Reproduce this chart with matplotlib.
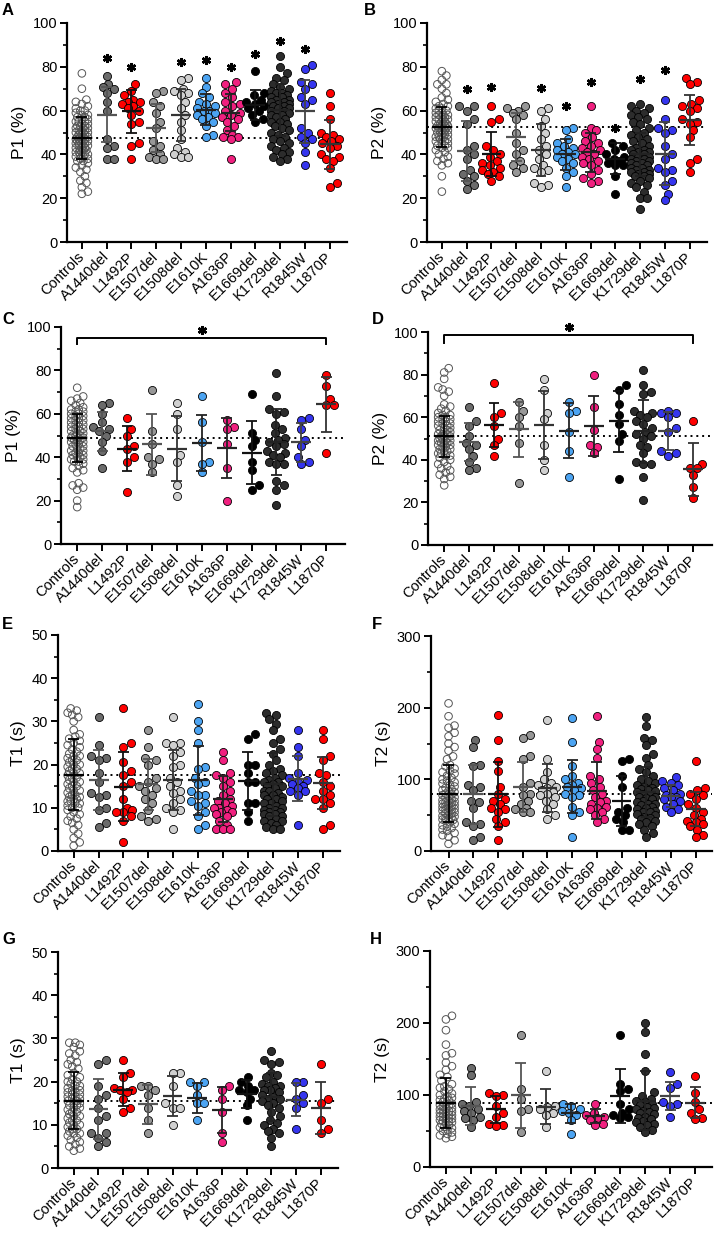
import matplotlib
matplotlib.use("Agg")
import matplotlib.pyplot as plt
import numpy as np

plt.rcParams['font.family'] = ['Liberation Sans', 'DejaVu Sans']

W, H = 721, 1233

groups = ['Controls', 'A1440del', 'L1492P', 'E1507del', 'E1508del', 'E1610K',
          'A1636P', 'E1669del', 'K1729del', 'R1845W', 'L1870P']
colors = ['none', '#6b6b6b', '#ff0000', '#979797', '#d0d0d0', '#4ca4f2',
          '#f0207f', '#000000', '#2c2c2c', '#3535ee', '#ff0000']
bar_colors = ['#000000', '#555555', '#111111', '#555555', '#333333', '#222222',
              '#222222', '#111111', '#222222', '#444444', '#333333']

# ---- panel A : P1 (%) ----
A_vals = [
    [77, 70, 65, 64, 63, 62, 61, 60, 60, 59, 58, 58, 57, 57, 56, 56, 55, 55, 55, 54, 54, 53, 53, 53,
     52, 52, 52, 51, 51, 51, 50, 50, 50, 50, 49, 49, 49, 48, 48, 48, 48, 47, 47, 47, 47, 46, 46, 46,
     46, 45, 45, 45, 45, 44, 44, 44, 43, 43, 43, 42, 42, 42, 41, 41, 41, 40, 40, 40, 39, 39, 38, 38,
     37, 37, 36, 35, 34, 33, 32, 30, 28, 27, 25, 23, 22],
    [76, 72, 71, 70, 68, 64, 60, 47, 44, 43, 38, 38],
    [72, 69, 67, 65, 64, 64, 63, 62, 61, 60, 58, 55, 54, 45, 44, 38],
    [69, 68, 64, 62, 59, 55, 52, 46, 44, 42, 40, 39, 38, 38],
    [75, 74, 70, 69, 68, 67, 64, 61, 58, 55, 51, 47, 43, 41, 40, 39, 39],
    [75, 71, 68, 66, 64, 63, 62, 61, 60, 60, 59, 58, 57, 56, 55, 53, 49, 48],
    [73, 72, 70, 68, 66, 64, 63, 62, 60, 59, 58, 57, 56, 55, 53, 51, 49, 48, 48, 47, 38],
    [78, 68, 67, 65, 64, 63, 62, 61, 60, 58, 56, 55],
    [85, 80, 77, 75, 74, 72, 71, 70, 69, 68, 68, 67, 66, 66, 65, 65, 64, 64, 63, 63, 62, 62, 61, 61,
     60, 60, 59, 59, 58, 58, 57, 56, 55, 55, 54, 53, 52, 51, 50, 49, 48, 47, 46, 45, 44, 43, 42, 41,
     40, 39, 38, 37],
    [81, 79, 73, 72, 70, 66, 65, 63, 52, 50, 48, 47, 45, 41, 35],
    [68, 62, 56, 50, 49, 48, 47, 46, 45, 44, 43, 40, 39, 38, 37, 34, 27, 25],
]
A_mean = [47.5, 58.2, 59.7, 52.1, 58, 60.5, 59, 62.7, 60.2, 59.6, 44.6]
A_sd = [9.8, 12.5, 9.8, 10.8, 12, 7, 8.5, 6.8, 12, 14.5, 11.3]
A_star = [None, 84, 80, None, 82, 83, 80, 86, 92, 88, None]

# ---- panel B : P2 (%) ----
B_vals = [
    [78, 76, 74, 72, 72, 70, 68, 66, 65, 64, 63, 62, 62, 61, 61, 60, 60, 59, 59, 58, 58, 58, 57, 57,
     57, 56, 56, 56, 55, 55, 55, 54, 54, 54, 53, 53, 53, 53, 52, 52, 52, 52, 51, 51, 51, 50, 50, 50,
     49, 49, 49, 48, 48, 48, 47, 47, 46, 46, 45, 45, 44, 44, 43, 43, 42, 41, 40, 39, 38, 37, 36, 35,
     30, 23],
    [62, 62, 60, 56, 54, 44, 42, 40, 38, 33, 31, 30, 28, 26, 24],
    [62, 56, 55, 44, 42, 40, 39, 37, 36, 35, 34, 33, 32, 31, 30, 28],
    [62, 61, 60, 59, 58, 56, 50, 45, 42, 40, 37, 35, 34, 32],
    [61, 60, 56, 53, 50, 47, 44, 42, 40, 38, 35, 34, 33, 32, 27, 26, 25],
    [52, 51, 47, 45, 44, 43, 42, 41, 40, 40, 39, 38, 37, 36, 34, 32, 30, 25],
    [62, 52, 51, 50, 48, 46, 45, 44, 43, 42, 41, 40, 39, 38, 37, 36, 35, 33, 31, 29, 28, 27],
    [45, 44, 42, 40, 39, 38, 37, 36, 35, 35, 30, 22],
    [63, 62, 61, 60, 59, 58, 57, 56, 55, 54, 52, 51, 50, 49, 48, 47, 46, 45, 44, 43, 42, 42, 41, 41,
     40, 40, 39, 39, 38, 38, 37, 37, 36, 36, 35, 35, 34, 34, 33, 33, 32, 32, 31, 31, 30, 30, 29, 28,
     27, 26, 25, 23, 20, 20, 15],
    [65, 56, 52, 51, 50, 44, 40, 38, 34, 33, 32, 28, 26, 22, 19],
    [75, 73, 72, 65, 63, 62, 61, 60, 56, 55, 54, 51, 48, 38, 36, 32],
]
B_mean = [52.6, 41.6, 40.3, 48, 42, 40, 41, 38, 40, 40.3, 55.8]
B_sd = [9, 13.7, 10, 11, 12, 7, 9, 7, 10, 14.5, 11.3]
B_star = [None, 70, 71, None, 70.5, 62, 73, 52, 74.5, 78.5, None]

# ---- panel C : P1 (%) ----
C_vals = [
    [72, 68, 67, 66, 65, 64, 63, 62, 62, 61, 61, 60, 60, 59, 59, 58, 58, 57, 57, 56, 56, 55, 55, 54,
     54, 53, 53, 52, 52, 51, 51, 50, 50, 50, 49, 49, 49, 48, 48, 48, 47, 47, 46, 46, 45, 45, 44, 44,
     43, 43, 42, 42, 41, 41, 40, 40, 39, 39, 38, 38, 37, 36, 35, 34, 33, 28, 27, 26, 25, 20, 17],
    [65, 64, 60, 56, 54, 53, 52, 50, 47, 43, 35],
    [58, 53, 50, 45, 44, 40, 38, 24],
    [71, 52, 46, 40, 39, 37, 33],
    [65, 60, 53, 41, 38, 27, 22],
    [68, 56, 47, 38, 37, 33],
    [57, 54, 53, 46, 35, 20],
    [69, 51, 48, 45, 38, 34, 27, 25],
    [79, 68, 62, 61, 60, 55, 53, 51, 49, 48, 47, 46, 45, 43, 42, 41, 40, 38, 37, 37, 29, 27, 25, 18],
    [58, 57, 53, 48, 45, 40, 38, 37],
    [78, 73, 67, 64, 64, 42],
]
C_mean = [49, 52, 44, 46, 44, 46.5, 44.2, 42, 47, 46.8, 64.3]
C_sd = [11, 9, 10.5, 14, 15, 13, 14, 14.5, 15, 9, 12.5]

# ---- panel D : P2 (%) ----
D_vals = [
    [83, 81, 78, 74, 73, 72, 70, 66, 65, 64, 63, 62, 61, 61, 60, 60, 59, 59, 58, 58, 57, 57, 56, 56,
     55, 55, 54, 54, 53, 53, 52, 52, 52, 51, 51, 51, 50, 50, 50, 49, 49, 49, 48, 48, 48, 47, 47, 46,
     46, 45, 45, 44, 44, 43, 43, 42, 42, 41, 40, 39, 38, 37, 36, 35, 34, 33, 32, 31, 28],
    [65, 58, 56, 51, 48, 47, 45, 42, 39, 36, 35],
    [76, 62, 60, 56, 50, 47, 42],
    [67, 63, 60, 56, 48, 29],
    [78, 73, 62, 59, 47, 40, 35],
    [67, 63, 62, 53, 44, 32],
    [80, 65, 54, 47, 46, 43],
    [75, 73, 66, 61, 57, 52, 49, 31],
    [82, 75, 72, 71, 63, 62, 61, 60, 58, 57, 55, 53, 52, 51, 50, 47, 46, 43, 39, 38, 38, 32, 21],
    [63, 62, 62, 60, 55, 53, 44, 43, 42],
    [58, 38, 36, 36, 33, 27, 22],
]
D_mean = [51, 48.4, 56.3, 54.3, 56.5, 53.7, 56, 58, 53.3, 53.4, 35.6]
D_sd = [9.5, 9, 10.5, 13, 16, 13, 14, 14.5, 15, 9, 12.5]

# ---- panel E : T1 (s) ----
E_vals = [
    [33, 32.5, 32, 31.5, 31, 30, 28, 27, 26.5, 26, 25.5, 25, 24.5, 24, 23.5, 23, 22.5, 22, 22, 21.5,
     21, 21, 20.5, 20, 20, 19.5, 19, 19, 18.5, 18, 18, 17.5, 17, 17, 16.5, 16, 16, 15.5, 15, 15, 14.5,
     14, 14, 13.5, 13, 13, 12.5, 12.5, 12, 12, 11.5, 11.5, 11, 11, 10.5, 10, 10, 9.5, 9, 8.5, 8, 7.5,
     7, 6.5, 6, 5, 4, 3, 2, 1.2],
    [31, 24.5, 22, 21.5, 21, 18, 16, 13.5, 13, 12.5, 10, 9.5, 6.5, 5.5],
    [33, 25, 24, 20.5, 18.5, 17.5, 16, 15, 12, 10, 9.5, 9, 9, 8, 7, 2],
    [28, 24, 21.5, 21, 20, 17, 16, 15, 14.5, 14, 13, 12, 11, 9.5, 8, 7.5, 7],
    [31, 25, 25, 24.5, 23, 22, 20, 19.5, 17, 16, 15, 14, 13.5, 12, 11, 10, 9.5, 9, 5],
    [34, 30, 28, 25, 19.5, 19, 17, 16, 15.5, 14, 13, 13, 11.5, 11, 10.5, 9, 8, 6, 5],
    [23, 21, 18, 17.5, 17, 16, 15, 14, 13, 12, 11.5, 11, 10.5, 10, 10, 9.5, 9, 9, 8.5, 8, 7, 6, 5, 5, 5],
    [27, 26, 20, 20, 18, 16, 16, 11, 11, 9, 7],
    [32, 31.5, 30.5, 29.5, 28, 26, 25, 23.5, 22.5, 21, 20, 19, 18.5, 18, 17.5, 17, 16.5, 16, 16, 15.5,
     15, 15, 14.5, 14, 14, 13.5, 13, 13, 12.5, 12, 12, 11.5, 11, 11, 10.5, 10, 10, 9.5, 9.5, 9, 9, 8.5,
     8.5, 8, 8, 7.5, 7, 7, 6.5, 6, 5.5, 5, 5],
    [28, 24, 22, 18, 17, 16.5, 16, 15.5, 15, 14.5, 14, 14, 13, 6],
    [28, 26, 22, 21, 18, 17.5, 16, 15, 14, 13, 12, 12, 11, 10, 6, 5],
]
E_mean = [17.7, 16.4, 14.9, 15.4, 16.4, 16.4, 12, 16.3, 15.4, 16.7, 15.8]
E_sd = [8.2, 7, 8, 6, 7, 8, 5.3, 6.7, 7.4, 5.2, 6]

# ---- panel F : T2 (s) ----
F_vals = [
    [206, 188, 175, 172, 165, 160, 150, 145, 140, 132, 128, 120, 118, 115, 112, 110, 108, 105, 102,
     100, 98, 96, 94, 92, 90, 88, 86, 85, 84, 82, 80, 79, 78, 76, 75, 74, 72, 71, 70, 69, 68, 67, 66,
     65, 64, 63, 62, 61, 60, 59, 58, 57, 56, 55, 54, 53, 52, 50, 49, 48, 47, 46, 45, 44, 43, 42, 40,
     38, 36, 34, 32, 30, 28, 25, 22, 20, 15, 10],
    [155, 145, 120, 118, 92, 90, 85, 70, 68, 60, 40, 38, 35, 20, 15],
    [190, 155, 125, 112, 90, 80, 72, 70, 65, 60, 58, 55, 45, 40, 35, 15],
    [162, 158, 132, 128, 95, 90, 80, 78, 70, 65, 60, 58, 55, 55],
    [183, 128, 110, 100, 95, 92, 90, 88, 85, 82, 80, 78, 75, 70, 65, 58, 50, 45],
    [185, 152, 118, 105, 100, 95, 92, 90, 88, 85, 80, 78, 75, 62, 55, 50, 20],
    [188, 152, 142, 130, 105, 100, 95, 90, 85, 80, 75, 70, 68, 65, 62, 60, 58, 55, 50, 45, 40],
    [128, 126, 105, 90, 60, 55, 50, 45, 40, 30, 30],
    [187, 175, 158, 155, 148, 135, 130, 120, 115, 110, 105, 100, 98, 95, 92, 90, 88, 86, 85, 84, 82,
     80, 78, 76, 75, 74, 72, 70, 68, 66, 65, 64, 62, 60, 58, 56, 55, 54, 52, 50, 48, 46, 44, 42, 40,
     38, 35, 30, 25, 20],
    [103, 98, 95, 92, 88, 85, 80, 78, 76, 75, 72, 70, 66, 62, 58, 55],
    [125, 88, 85, 80, 78, 72, 65, 60, 55, 50, 45, 42, 40, 38, 35, 30, 22, 20],
]
F_mean = [80, 79, 79, 89, 88, 90, 84, 70, 82, 77, 59]
F_sd = [40, 41, 45, 35, 33, 37, 40, 35, 35, 15, 24]

# ---- panel G : T1 (s) ----
G_vals = [
    [29, 29, 28.5, 28, 27, 26.5, 26, 25, 24.5, 24, 23.5, 23, 22, 21.5, 21, 20.5, 20, 20, 19.5, 19, 19,
     18.5, 18, 18, 17.5, 17.5, 17, 17, 16.5, 16.5, 16, 16, 15.5, 15.5, 15, 15, 14.5, 14.5, 14, 14, 13.5,
     13, 13, 12.5, 12, 12, 11.5, 11, 11, 10.5, 10, 10, 9.5, 9, 9, 8.5, 8, 8, 7.5, 7, 6.5, 6, 5.5, 5,
     4.5, 4],
    [25, 24, 19, 17, 16, 14, 12, 11, 8, 8, 7, 6, 5],
    [25, 22, 21, 18.5, 18, 18, 17.5, 16, 14, 13],
    [19, 19, 18, 17, 14, 11, 8],
    [22, 22, 19, 15, 14, 14, 10],
    [20, 20, 19, 17, 15, 15, 11],
    [19, 18, 16, 13, 8, 6],
    [21, 20, 19, 18, 18, 17.5, 16, 14.5, 11],
    [27, 25, 24.5, 24, 22, 21.5, 21, 20, 19.5, 19, 19, 18.5, 18, 18, 17.5, 17, 16.5, 16, 16, 15.5, 15,
     14.5, 14, 13, 12, 11, 10.5, 10, 9, 8.5, 8, 7, 5],
    [20, 20, 17, 16, 15, 14, 9],
    [24, 16, 15, 11, 9, 8],
]
G_mean = [15.6, 13.7, 18.1, 14.7, 16.6, 16.2, 13.4, 17.2, 16.4, 15.8, 13.8]
G_sd = [6.6, 6.9, 3.8, 4.4, 4.6, 3.5, 5.3, 3.2, 5.5, 3.8, 6]

# ---- panel H : T2 (s) ----
H_vals = [
    [210, 205, 190, 170, 158, 155, 145, 140, 135, 128, 125, 120, 115, 112, 110, 108, 105, 102, 100, 98,
     96, 95, 93, 92, 90, 88, 87, 86, 85, 84, 82, 81, 80, 79, 78, 77, 76, 75, 74, 73, 72, 71, 70, 69,
     68, 67, 66, 65, 64, 63, 62, 61, 60, 58, 56, 55, 54, 52, 50, 48, 46, 44, 42, 40],
    [138, 128, 90, 88, 85, 80, 78, 75, 70, 68, 65, 55],
    [103, 100, 98, 85, 75, 70, 60, 58, 57],
    [183, 108, 95, 80, 78, 48],
    [133, 85, 83, 80, 75, 72, 55],
    [88, 85, 80, 78, 75, 72, 65, 46],
    [88, 75, 72, 70, 68, 65, 60, 58],
    [183, 115, 108, 105, 87, 80, 75, 72, 70, 68],
    [200, 188, 157, 133, 104, 98, 95, 92, 90, 88, 86, 84, 82, 80, 78, 76, 75, 73, 70, 68, 66, 64, 62,
     60, 58, 55, 52, 48],
    [132, 115, 110, 90, 88, 85, 70],
    [127, 103, 90, 80, 75, 68, 66],
]
H_mean = [89, 84.8, 80, 99.5, 84, 74.5, 71, 98.5, 92, 98.5, 89.5]
H_sd = [35, 26, 19, 45, 24, 13, 10, 38, 41, 20, 22]


def swarm(vals, ppu, d, wmax):
    # spread points sideways (in pixels) so circles do not sit on top of each other
    y = np.asarray(vals, float) * ppu
    order = np.argsort(y)
    step = d * 0.25
    cands = [0.0]
    k = step
    while k <= wmax + 1e-6:
        cands += [k, -k]
        k += step
    xs = np.zeros(len(y))
    done = []
    for i in order:
        best, bestd = 0.0, -1.0
        for c in cands:
            dm = min([np.hypot(c - xs[j], y[i] - y[j]) for j in done], default=1e9)
            if dm >= d:
                best = c
                break
            if dm > bestd:
                best, bestd = c, dm
        xs[i] = best
        done.append(i)
    return xs


panels = [
    # letter, rect px (l, r, t, b), xlim, data, ylim, major, minor, ylabel, letter pos
    ('A', (67, 347, 23, 242), -0.6, 10.7, A_vals, A_mean, A_sd, (0, 100), 20, 10, 'P1 (%)', (2, 3)),
    ('B', (427, 707, 23, 242), -0.6, 10.7, B_vals, B_mean, B_sd, (0, 100), 20, 10, 'P2 (%)', (364, 3)),
    ('C', (61, 345, 327, 544), -0.65, 10.75, C_vals, C_mean, C_sd, (0, 100), 20, 10, 'P1 (%)', (2, 312)),
    ('D', (428, 712, 332, 545), -0.65, 10.75, D_vals, D_mean, D_sd, (0, 100), 20, 10, 'P2 (%)', (372, 312)),
    ('E', (58, 340, 635, 851), -0.63, 10.7, E_vals, E_mean, E_sd, (0, 50), 10, 5, 'T1 (s)', (2, 617)),
    ('F', (431, 712, 636, 851), -0.71, 10.66, F_vals, F_mean, F_sd, (0, 300), 100, 50, 'T2 (s)', (372, 617)),
    ('G', (58, 338, 952, 1168), -0.64, 10.7, G_vals, G_mean, G_sd, (0, 50), 10, 5, 'T1 (s)', (2, 932)),
    ('H', (430, 712, 951, 1167), -0.64, 10.68, H_vals, H_mean, H_sd, (0, 300), 100, 50, 'T2 (s)', (370, 932)),
]
stars = {'A': A_star, 'B': B_star}
brackets = {'C': (95, 92, 98.8), 'D': (98.7, 95, 102.3)}

fig = plt.figure(figsize=(W / 100, H / 100), dpi=100)

for (letter, (l, r, t, b), x0, x1, vals, means, sds, ylim, major, minor,
     ylabel, (lx, ly)) in panels:
    ax = fig.add_axes([l / W, 1 - b / H, (r - l) / W, (b - t) / H])
    ax.set_xlim(x0, x1)
    ax.set_ylim(*ylim)
    ppu_y = (b - t) / (ylim[1] - ylim[0])
    ppu_x = (r - l) / (x1 - x0)

    ax.axhline(means[0], color='black', lw=1.4, ls=(0, (1, 2)), zorder=1)

    for i, v in enumerate(vals):
        if i == 0:
            xs = i + swarm(v, ppu_y, 6.0, 7.0) / ppu_x
            ax.scatter(xs, v, s=30, facecolors='none', edgecolors='#555555',
                       linewidths=0.7, zorder=2, clip_on=False)
        else:
            xs = i + swarm(v, ppu_y, 7.2, 9.0) / ppu_x
            ax.scatter(xs, v, s=34, c=colors[i], edgecolors='black',
                       linewidths=0.6, zorder=2, clip_on=False)
        m, s = means[i], sds[i]
        bc = bar_colors[i]
        ax.hlines(m, i - 0.4, i + 0.4, color=bc, lw=1.6, zorder=3)
        ax.vlines(i, m - s, m + s, color=bc, lw=1.3, zorder=3)
        ax.hlines([m - s, m + s], i - 0.22, i + 0.22, color=bc, lw=1.3, zorder=3)

    if letter in stars:
        for i, sy in enumerate(stars[letter]):
            if sy is not None:
                ax.plot(i, sy, marker=(6, 2, 0), ms=6.5, mew=1.8, color='black',
                        zorder=4, clip_on=False)
    if letter in brackets:
        yb, yl, ys = brackets[letter]
        ax.plot([0, 0, 10, 10], [yl, yb, yb, yl], color='black', lw=1.4,
                clip_on=False, zorder=4)
        ax.plot(5, ys, marker=(6, 2, 0), ms=6.5, mew=1.8, color='black',
                zorder=4, clip_on=False)

    for side in ('top', 'right'):
        ax.spines[side].set_visible(False)
    for side in ('left', 'bottom'):
        ax.spines[side].set_linewidth(1.6)
    ax.set_yticks(np.arange(ylim[0], ylim[1] + 1, major))
    ax.set_yticks(np.arange(ylim[0], ylim[1] + 1, minor), minor=True)
    ax.set_xticks(range(len(groups)))
    ax.set_xticklabels(groups, rotation=45, ha='right', va='center',
                       rotation_mode='anchor', fontsize=10.5)
    ax.tick_params(axis='y', which='major', length=5, width=1.4, labelsize=10.5, pad=2)
    ax.tick_params(axis='y', which='minor', length=3, width=1.2)
    ax.tick_params(axis='x', which='major', length=5, width=1.4, pad=4)
    ax.set_ylabel(ylabel, fontsize=12.5, labelpad=4)

    fig.text(lx / W, 1 - ly / H, letter, fontsize=12, fontweight='bold',
             ha='left', va='top')

fig.savefig('out.png', dpi=100)
